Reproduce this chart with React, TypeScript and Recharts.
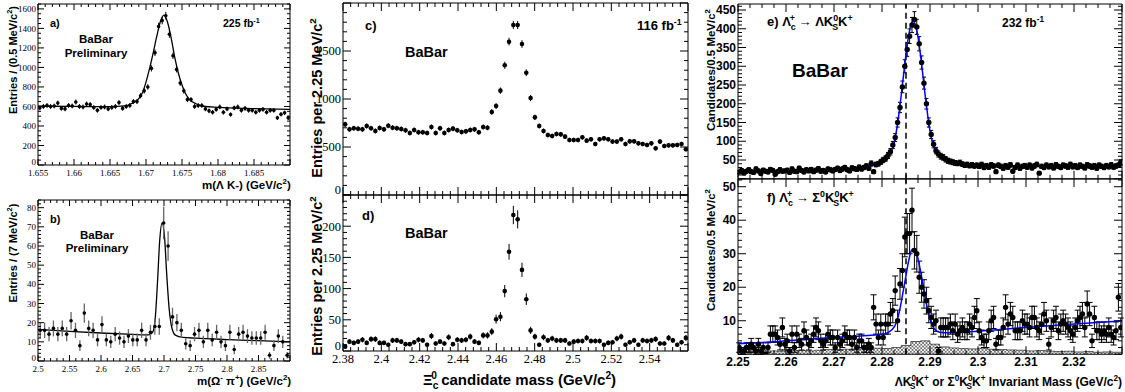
import React from "react";
import { ComposedChart, XAxis, YAxis, Scatter, Line, Area, ErrorBar, ReferenceLine } from "recharts";

const SERIF = '"Liberation Serif", "Times New Roman", serif';
const SANS = '"Liberation Sans", Arial, Helvetica, sans-serif';

// a) m(Lambda K-), 0.5 MeV bins
const aStart = 1.655;
const aBin = 0.0005;
const aCounts = [
  585, 600, 610, 600, 605, 635, 580, 575, 610, 605,
  645, 600, 595, 625, 620, 590, 560, 590, 595, 575,
  590, 600, 640, 580, 600, 610, 650, 650, 710, 760,
  800, 990, 1150, 1420, 1480, 1530, 1340, 1120, 980, 840,
  760, 670, 670, 600, 610, 610, 575, 555, 540, 570,
  595, 540, 575, 517, 585, 595, 560, 580, 560, 560,
  540, 560, 570, 540, 560, 560, 483, 520, 535, 483,
];
const aFit = [
  [1.655, 602], [1.66, 600], [1.665, 598], [1.667, 605], [1.668, 630], [1.669, 680],
  [1.6695, 740], [1.67, 850], [1.6705, 990], [1.671, 1150], [1.6715, 1320], [1.672, 1470],
  [1.6725, 1535], [1.673, 1460], [1.6735, 1300], [1.674, 1100], [1.6745, 940], [1.675, 820],
  [1.6755, 730], [1.676, 675], [1.677, 625], [1.678, 602], [1.68, 590], [1.685, 578], [1.69, 570],
];

// b) m(Omega- pi+), 7 MeV bins
const bStart = 2.5;
const bBin = 0.007;
const bCounts = [
  16, 16, 14, 17, 14, 17, 14, 21, 16, 8,
  25, 17, 16, 11, 19, 11, 10, 14, 12, 10,
  13, 11, 11, 16, 11, 15, 18, 18, 72, 60,
  23, 20, 16, 9, 8, 14, 16, 10, 16, 11,
  15, 10, 8, 15, 6, 14, 15, 13, 12, 12,
  12, 15, 3, 8, 13, 10, 3,
];
const bFit = [
  [2.5, 16.5], [2.55, 15.5], [2.6, 14.6], [2.65, 13.9], [2.675, 13.6], [2.682, 15],
  [2.686, 22], [2.69, 43], [2.693, 62], [2.697, 72], [2.701, 64], [2.704, 47],
  [2.708, 28], [2.712, 18], [2.718, 13.5], [2.73, 12.3], [2.75, 11.9], [2.8, 11.2],
  [2.85, 10.6], [2.9, 10.0],
];

// c), d) Xi_c0 candidate mass, 2.25 MeV bins
const cdStart = 2.38;
const cdBin = 0.00225;
const cCounts = [
  736, 684, 695, 690, 684, 719, 695, 667, 698, 684,
  722, 701, 695, 688, 674, 646, 677, 653, 653, 646,
  708, 646, 695, 646, 677, 691, 674, 656, 663, 677,
  684, 653, 708, 701, 865, 927, 1087, 1351, 1597, 1771,
  1771, 1573, 1274, 1010, 809, 719, 667, 625, 615, 636,
  632, 608, 573, 573, 573, 601, 566, 580, 531, 580,
  590, 580, 556, 556, 580, 531, 559, 559, 538, 531,
  521, 538, 486, 556, 511, 517, 517, 521, 531, 476,
];
const dCounts = [
  7, 15, 13, 15, 18, 13, 19, 19, 13, 13,
  10, 17, 17, 15, 11, 11, 14, 18, 17, 10,
  24, 12, 15, 12, 22, 11, 18, 17, 18, 23,
  15, 13, 25, 25, 31, 51, 55, 96, 159, 218,
  211, 130, 83, 33, 23, 10, 22, 17, 20, 17,
  17, 17, 12, 15, 16, 16, 21, 16, 16, 16,
  10, 13, 14, 20, 23, 10, 14, 17, 10, 17,
  16, 17, 19, 12, 12, 21, 17, 10, 14, 21,
];

// e), f) Lambda_c+ candidates, 0.5 MeV bins
const efStart = 2.25;
const efBin = 0.0005;
const eCounts = [
  18, 22, 15, 20, 24, 19, 17, 26, 21, 14, 23, 20, 18, 25, 22, 12, 19, 24, 20, 21,
  23, 17, 26, 20, 19, 28, 22, 18, 24, 21, 25, 19, 23, 27, 20, 22, 18, 26, 24, 21,
  25, 28, 22, 26, 30, 24, 21, 29, 27, 25, 31, 26, 30, 34, 28, 41, 19, 38, 40, 45,
  50, 54, 62, 72, 90, 110, 150, 190, 245, 300, 345, 380, 410, 425, 405, 360, 310, 255, 200, 150,
  118, 92, 75, 66, 60, 57, 52, 48, 46, 44, 42, 41, 43, 39, 36, 38, 35, 37, 34, 36,
  33, 38, 30, 35, 31, 37, 34, 19, 36, 33, 28, 35, 31, 37, 20, 30, 36, 28, 33, 35,
  31, 36, 29, 34, 38, 15, 33, 30, 36, 32, 35, 29, 37, 33, 30, 36, 34, 31, 38, 32,
  35, 30, 36, 33, 29, 37, 34, 31, 35, 28, 36, 33, 30, 35, 32, 37, 31, 34, 36, 44,
];
const eFit = [
  [2.25, 19], [2.255, 20], [2.26, 21], [2.265, 22], [2.27, 24], [2.274, 27], [2.277, 31],
  [2.279, 40], [2.28, 47], [2.281, 57], [2.2815, 65], [2.282, 75], [2.2825, 94], [2.283, 127],
  [2.2835, 171], [2.284, 222], [2.2845, 278], [2.285, 332], [2.2855, 378], [2.286, 409],
  [2.2865, 420], [2.287, 409], [2.2875, 378], [2.288, 332], [2.2885, 278], [2.289, 222],
  [2.2895, 171], [2.29, 127], [2.2905, 97], [2.291, 78], [2.292, 62], [2.293, 55], [2.294, 50],
  [2.295, 45], [2.297, 40], [2.3, 36], [2.31, 34], [2.32, 34], [2.33, 35],
];
const fCounts = [
  2, 1, 1, 2, 2, 3, 2, 1, 3, 1, 2, 0, 2, 6, 6, 6, 5, 3, 8, 3,
  4, 1, 6, 2, 6, 4, 3, 7, 5, 3, 4, 6, 8, 7, 4, 3, 4, 6, 5, 5,
  2, 5, 3, 4, 6, 5, 5, 3, 5, 2, 4, 4, 2, 2, 3, 2, 14, 9, 5, 9,
  5, 9, 9, 12, 13, 19, 10, 21, 25, 35, 36, 36, 43, 31, 30, 23, 20, 18, 16, 13,
  11, 9, 10, 1, 8, 8, 8, 8, 9, 7, 9, 6, 7, 8, 7, 7, 9, 8, 11, 13,
  7, 5, 4, 4, 7, 10, 11, 3, 5, 5, 8, 14, 9, 12, 11, 7, 7, 7, 10, 9,
  9, 8, 11, 11, 8, 7, 9, 12, 10, 3, 8, 10, 11, 7, 9, 10, 9, 8, 7, 6,
  8, 10, 11, 12, 8, 15, 12, 4, 11, 7, 7, 6, 7, 6, 8, 6, 5, 7, 17, 8,
];
const fFit = [
  [2.25, 3.1], [2.255, 3.5], [2.26, 4.0], [2.265, 4.5], [2.27, 5.0], [2.275, 5.4], [2.279, 5.8],
  [2.281, 6.3], [2.282, 7.2], [2.283, 9.5], [2.2835, 12], [2.284, 15.5], [2.2845, 19.5],
  [2.285, 23.5], [2.2855, 27.5], [2.286, 30.5], [2.2865, 31.5], [2.287, 31], [2.2875, 28.5],
  [2.288, 25], [2.2885, 21], [2.289, 17], [2.2895, 13.5], [2.29, 10.5], [2.2905, 8.5],
  [2.291, 7.4], [2.292, 6.6], [2.294, 6.4], [2.3, 6.9], [2.31, 8.0], [2.32, 9.0], [2.33, 9.9],
];
// hatched background histogram in f), 2 MeV bins
const fBkgBin = 0.002;
const fBkg = [
  1.0, 0.8, 1.2, 1.0, 0.9, 1.3, 1.1, 1.0, 1.2, 1.4, 1.3, 1.5, 1.6, 1.5, 1.8, 1.7, 2.0, 2.6, 3.8, 4.0,
  3.0, 2.2, 1.9, 1.7, 1.6, 1.8, 1.5, 1.4, 1.3, 1.2, 1.0, 1.1, 0.9, 0.8, 0.9, 0.7, 0.8, 0.6, 0.7, 0.6,
];
const lambdaCMass = 2.285;

type Pt = { x: number; y: number; err?: number };
const hist = (start: number, w: number, counts: number[]): Pt[] =>
  counts.map((n, i) => ({ x: start + w * (i + 0.5), y: n, err: Math.sqrt(n) }));
const curve = (pts: number[][]): Pt[] => pts.map(([x, y]) => ({ x, y }));
const steps = (start: number, w: number, vals: number[]): Pt[] =>
  [...vals.map((v, i) => ({ x: start + w * i, y: v })), { x: start + w * vals.length, y: vals[vals.length - 1] }];
const range = (a: number, b: number, s: number) => {
  const out: number[] = [];
  const n = Math.round((b - a) / s);
  for (let i = 0; i <= n; i++) out.push(+(a + i * s).toFixed(6));
  return out;
};

type Axis = { domain: [number, number]; ticks: number[]; majors: number[]; labels: number[] };
type Font = { family: string; size: number; weight: number; gap: number };
const near = (list: number[], v: number) => list.some((m) => Math.abs(m - v) < 1e-7);

function tickFor(side: "bottom" | "top" | "left" | "right", ax: Axis, font: Font, len: number) {
  return (props: any) => {
    const { x, y, payload } = props;
    const v = payload.value as number;
    const L = near(ax.majors, v) ? len : len / 2;
    const lab = near(ax.labels, v) ? String(+v.toFixed(4)) : null;
    const tp = { fontFamily: font.family, fontSize: font.size, fontWeight: font.weight, fill: "#000" };
    let ln: React.ReactNode = null;
    let tx: React.ReactNode = null;
    if (side === "bottom") {
      ln = <line x1={x} y1={y} x2={x} y2={y - L} stroke="#000" />;
      if (lab) tx = <text x={x} y={y + font.gap} dy="0.75em" textAnchor="middle" {...tp}>{lab}</text>;
    } else if (side === "top") {
      ln = <line x1={x} y1={y} x2={x} y2={y + L} stroke="#000" />;
    } else if (side === "left") {
      ln = <line x1={x} y1={y} x2={x + L} y2={y} stroke="#000" />;
      const lift = v === 0 ? font.size * 0.4 : 0;
      if (lab) tx = <text x={x - 2} y={y - lift} dy="0.35em" textAnchor="end" {...tp}>{lab}</text>;
    } else {
      ln = <line x1={x} y1={y} x2={x - L} y2={y} stroke="#000" />;
    }
    return <g>{ln}{tx}</g>;
  };
}

type PanelProps = { L: number; T: number; W: number; H: number; x: Axis; y: Axis; font: Font; len: number; children: React.ReactNode };

function Panel({ L, T, W, H, x, y, font, len, children }: PanelProps) {
  const lw = 60, rw = 4, th = 4, bh = 30;
  const common = { allowDataOverflow: true, interval: 0 as const, tickLine: false, tickSize: 0, tickMargin: 0, axisLine: { stroke: "#000" } };
  const noLab = (a: Axis): Axis => ({ ...a, labels: [] });
  return (
    <div style={{ position: "absolute", left: L - lw, top: T - th }}>
      <ComposedChart width={W + lw + rw} height={H + th + bh} margin={{ top: 0, right: 0, bottom: 0, left: 0 }}>
        <XAxis type="number" dataKey="x" domain={x.domain} ticks={x.ticks} height={bh} tick={tickFor("bottom", x, font, len)} {...common} />
        <XAxis xAxisId="t" orientation="top" type="number" dataKey="x" domain={x.domain} ticks={x.ticks} height={th} tick={tickFor("top", noLab(x), font, len)} {...common} />
        <YAxis type="number" dataKey="y" domain={y.domain} ticks={y.ticks} width={lw} tick={tickFor("left", y, font, len)} {...common} />
        <YAxis yAxisId="r" orientation="right" type="number" dataKey="y" domain={y.domain} ticks={y.ticks} width={rw} tick={tickFor("right", noLab(y), font, len)} {...common} />
        {children}
      </ComposedChart>
    </div>
  );
}

const dot = (r: number) => (p: any) => <circle cx={p.cx} cy={p.cy} r={r} fill="#000" />;

type Seg = [string, ("n" | "u" | "d")?, number?];
function Rich({ x, y, segs, size, anchor = "start", rotate = false, weight = 700, family = SANS }: {
  x: number; y: number; segs: Seg[]; size: number; anchor?: "start" | "middle" | "end"; rotate?: boolean; weight?: number; family?: string;
}) {
  let cur = 0;
  const spans = segs.map(([t, m = "n", dx = 0], i) => {
    const target = m === "u" ? -0.42 * size : m === "d" ? 0.28 * size : 0;
    const dy = target - cur;
    cur = target;
    return (
      <tspan key={i} dx={dx} dy={dy} fontSize={m === "n" ? size : size * 0.68}>{t}</tspan>
    );
  });
  return (
    <text x={x} y={y} fontFamily={family} fontWeight={weight} fontSize={size} textAnchor={anchor} fill="#000"
      transform={rotate ? `rotate(-90 ${x} ${y})` : undefined}>{spans}</text>
  );
}

const smallSerif: Font = { family: SERIF, size: 9, weight: 400, gap: 4 };
const midSerif: Font = { family: SERIF, size: 12.5, weight: 400, gap: 3 };
const boldSans: Font = { family: SANS, size: 12, weight: 700, gap: 3 };

const aX: Axis = { domain: [1.655, 1.69], ticks: range(1.655, 1.69, 0.001), majors: range(1.655, 1.69, 0.005), labels: range(1.655, 1.685, 0.005) };
const aY: Axis = { domain: [0, 1650], ticks: range(0, 1650, 50), majors: range(0, 1600, 200), labels: range(0, 1600, 200) };
const bX: Axis = { domain: [2.5, 2.9], ticks: range(2.5, 2.9, 0.01), majors: range(2.5, 2.9, 0.05), labels: range(2.5, 2.85, 0.05) };
const bY: Axis = { domain: [0, 84], ticks: range(0, 84, 2), majors: range(0, 80, 10), labels: range(0, 80, 10) };
const cX: Axis = { domain: [2.38, 2.56], ticks: range(2.38, 2.56, 0.004), majors: range(2.38, 2.56, 0.02), labels: [] };
const cY: Axis = { domain: [0, 2000], ticks: range(0, 2000, 100), majors: range(0, 2000, 500), labels: range(0, 1500, 500) };
const dX: Axis = { ...cX, labels: range(2.38, 2.54, 0.02) };
const dY: Axis = { domain: [0, 250], ticks: range(0, 250, 10), majors: range(0, 250, 50), labels: range(0, 200, 50) };
const eX: Axis = { domain: [2.25, 2.33], ticks: range(2.25, 2.33, 0.0025), majors: range(2.25, 2.33, 0.01), labels: [] };
const eY: Axis = { domain: [0, 466], ticks: range(0, 460, 10), majors: range(0, 450, 50), labels: range(50, 450, 50) };
const fX: Axis = { ...eX, labels: range(2.25, 2.32, 0.01) };
const fY: Axis = { domain: [0, 52.3], ticks: range(0, 52, 2), majors: range(0, 50, 10), labels: range(10, 50, 10) };

export default function App() {
  const errBlack = { stroke: "#000", strokeWidth: 1, direction: "y" as const, isAnimationActive: false };
  return (
    <div style={{ position: "fixed", left: 0, top: 0, width: 1125, height: 392, background: "#fff", overflow: "hidden" }}>
      <svg width={0} height={0} style={{ position: "absolute" }}>
        <defs>
          <pattern id="hatch" width="3.5" height="3.5" patternUnits="userSpaceOnUse">
            <rect width="3.5" height="3.5" fill="#fff" />
            <path d="M0,0 L3.5,3.5 M3.5,0 L0,3.5" stroke="#000" strokeWidth="0.5" />
          </pattern>
        </defs>
      </svg>

      <Panel L={38} T={4} W={252} H={161} x={aX} y={aY} font={smallSerif} len={6}>
        <Line data={curve(aFit)} dataKey="y" type="monotone" stroke="#000" strokeWidth={1.3} dot={false} isAnimationActive={false} />
        <Scatter data={hist(aStart, aBin, aCounts)} dataKey="y" shape={dot(1.8)} isAnimationActive={false}>
          <ErrorBar dataKey="err" width={0} {...errBlack} />
        </Scatter>
      </Panel>

      <Panel L={38} T={200} W={252} H={161} x={bX} y={bY} font={smallSerif} len={6}>
        <Line data={curve(bFit)} dataKey="y" type="monotone" stroke="#000" strokeWidth={1.3} dot={false} isAnimationActive={false} />
        <Scatter data={hist(bStart, bBin, bCounts)} dataKey="y" shape={dot(1.8)} isAnimationActive={false}>
          <ErrorBar dataKey="err" width={0} {...errBlack} stroke="#666" strokeWidth={1.3} />
        </Scatter>
      </Panel>

      <Panel L={343} T={3} W={345} H={192} x={cX} y={cY} font={midSerif} len={8}>
        <Scatter data={hist(cdStart, cdBin, cCounts)} dataKey="y" shape={dot(2.3)} isAnimationActive={false}>
          <ErrorBar dataKey="err" width={0} {...errBlack} />
        </Scatter>
      </Panel>

      <Panel L={343} T={195} W={345} H={156} x={dX} y={dY} font={midSerif} len={8}>
        <Scatter data={hist(cdStart, cdBin, dCounts)} dataKey="y" shape={dot(2.3)} isAnimationActive={false}>
          <ErrorBar dataKey="err" width={0} {...errBlack} />
        </Scatter>
      </Panel>

      <Panel L={738} T={4} W={384} H={174.75} x={eX} y={eY} font={boldSans} len={8}>
        <ReferenceLine x={lambdaCMass} stroke="#000" strokeWidth={1.5} strokeDasharray="6 4" />
        <Scatter data={hist(efStart, efBin, eCounts)} dataKey="y" shape={dot(2.7)} isAnimationActive={false}>
          <ErrorBar dataKey="err" width={2} {...errBlack} />
        </Scatter>
        <Line data={curve(eFit)} dataKey="y" type="monotone" stroke="#0000ff" strokeWidth={1.5} dot={false} isAnimationActive={false} />
      </Panel>

      <Panel L={738} T={178.75} W={384} H={175.25} x={fX} y={fY} font={boldSans} len={8}>
        <Area data={steps(efStart, fBkgBin, fBkg)} dataKey="y" type="stepAfter" stroke="#000" strokeWidth={0.6} fill="url(#hatch)" fillOpacity={1} isAnimationActive={false} />
        <ReferenceLine x={lambdaCMass} stroke="#000" strokeWidth={1.5} strokeDasharray="6 4" />
        <Scatter data={hist(efStart, efBin, fCounts)} dataKey="y" shape={dot(2.7)} isAnimationActive={false}>
          <ErrorBar dataKey="err" width={3} {...errBlack} />
        </Scatter>
        <Line data={curve(fFit)} dataKey="y" type="monotone" stroke="#0000ff" strokeWidth={1.5} dot={false} isAnimationActive={false} />
      </Panel>

      <svg width={1125} height={392} style={{ position: "absolute", left: 0, top: 0, pointerEvents: "none" }}>
        {/* a / b */}
        <Rich x={50} y={27} size={11} segs={[["a)"]]} />
        <Rich x={96} y={43} size={11.5} anchor="middle" segs={[["BaBar"]]} />
        <Rich x={96} y={57} size={11.5} anchor="middle" segs={[["Preliminary"]]} />
        <Rich x={223} y={27} size={10.5} segs={[["225 fb"], ["-1", "u"]]} />
        <Rich x={202} y={189} size={11.5} segs={[["m(Λ K-)  (GeV/c"], ["2", "u"], [")"]]} />
        <Rich x={17} y={60} size={11} rotate anchor="middle" segs={[["Entries / (0.5 MeV/c"], ["2", "u"], [")"]]} />
        <Rich x={50} y={223} size={11} segs={[["b)"]]} />
        <Rich x={97} y={239} size={11.5} anchor="middle" segs={[["BaBar"]]} />
        <Rich x={97} y={252} size={11.5} anchor="middle" segs={[["Preliminary"]]} />
        <Rich x={197} y={385} size={11.5} segs={[["m(Ω"], ["-", "u"], [" π"], ["+", "u"], [")  (GeV/c"], ["2", "u"], [")"]]} />
        <Rich x={17} y={253} size={11} rotate anchor="middle" segs={[["Entries / (7 MeV/c"], ["2", "u"], [")"]]} />
        {/* c / d */}
        <Rich x={365} y={30} size={13} segs={[["c)"]]} />
        <Rich x={405} y={57} size={14.5} segs={[["BaBar"]]} />
        <Rich x={637} y={30} size={13} segs={[["116 fb"], ["-1", "u"]]} />
        <Rich x={362} y={220} size={13} segs={[["d)"]]} />
        <Rich x={405} y={238} size={14.5} segs={[["BaBar"]]} />
        <Rich x={322} y={98} size={14.5} rotate anchor="middle" segs={[["Entries per 2.25 MeV/c"], ["2", "u"]]} />
        <Rich x={322} y={276} size={14.5} rotate anchor="middle" segs={[["Entries per 2.25 MeV/c"], ["2", "u"]]} />
        <Rich x={423} y={385} size={15} segs={[["Ξ"], ["c", "d"], ["0", "u", -7], [" candidate mass (GeV/c"], ["2", "u"], [")"]]} />
        {/* e / f */}
        <Rich x={767} y={26} size={13} segs={[["e)  Λ"], ["c", "d"], ["+", "u", -6], [" → ΛK"], ["0", "u"], ["S", "d", -6], ["K"], ["+", "u"]]} />
        <Rich x={1002} y={27} size={12} segs={[["232 fb"], ["-1", "u"]]} />
        <Rich x={792} y={77} size={19} segs={[["BaBar"]]} />
        <Rich x={767} y={202} size={13} segs={[["f)  Λ"], ["c", "d"], ["+", "u", -6], [" → Σ"], ["0", "u"], ["K", "n"], ["0", "u"], ["S", "d", -6], ["K"], ["+", "u"]]} />
        <Rich x={715} y={70} size={11.5} rotate anchor="middle" segs={[["Candidates/0.5 MeV/c"], ["2", "u"]]} />
        <Rich x={715} y={250} size={11.5} rotate anchor="middle" segs={[["Candidates/0.5 MeV/c"], ["2", "u"]]} />
        <Rich x={1122} y={386} size={12} anchor="end" segs={[["ΛK"], ["0", "u"], ["S", "d", -6], ["K"], ["+", "u"], ["  or  Σ"], ["0", "u"], ["K", "n"], ["0", "u"], ["S", "d", -6], ["K"], ["+", "u"], [" Invariant Mass (GeV/c"], ["2", "u"], [")"]]} />
      </svg>
    </div>
  );
}
